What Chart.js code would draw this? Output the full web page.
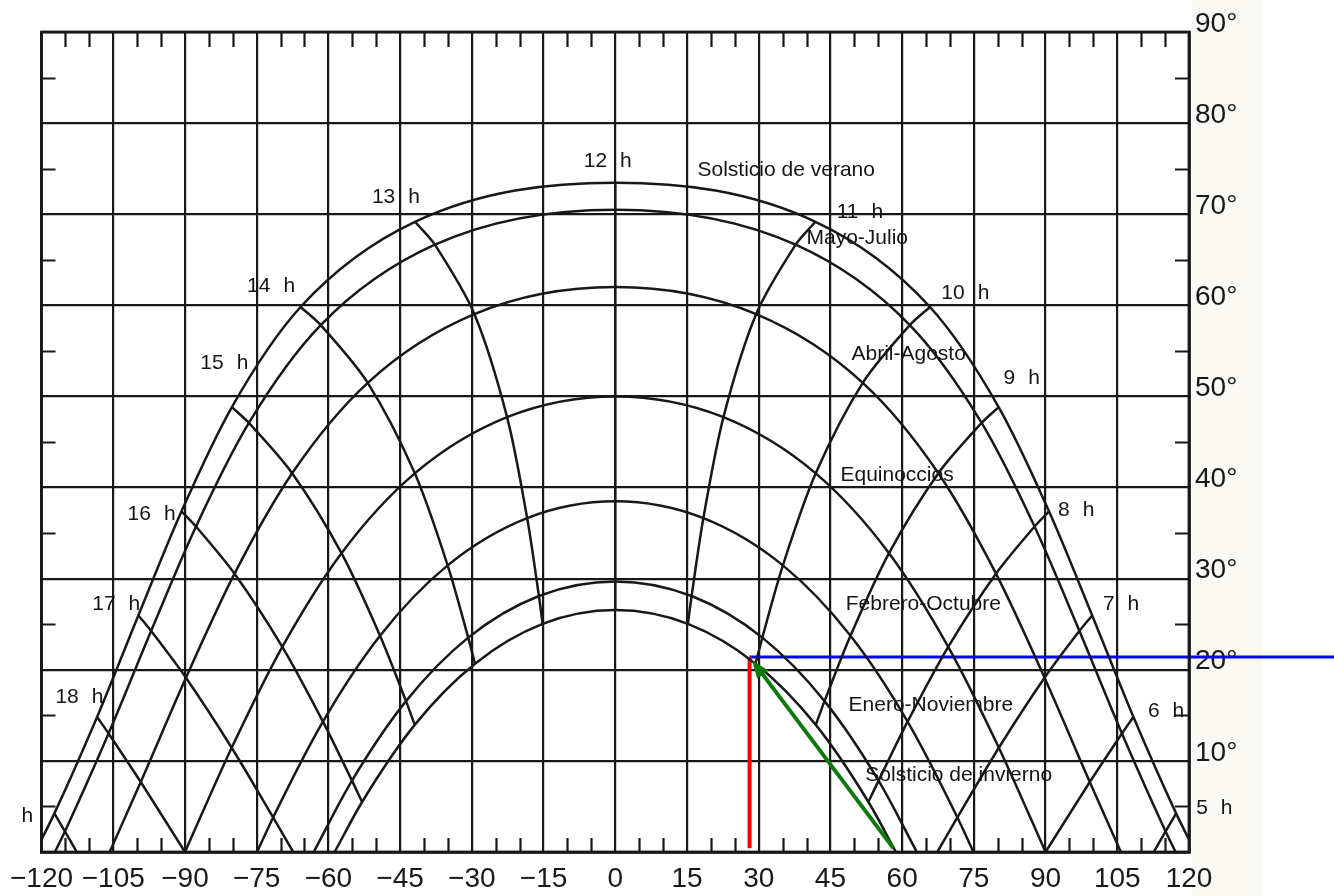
<!DOCTYPE html>
<html>
<head>
<meta charset="utf-8">
<script src="https://cdn.jsdelivr.net/npm/chart.js@4.4.1/dist/chart.umd.min.js"></script>
<style>
  html, body { margin: 0; padding: 0; background: #ffffff; }
  canvas { display: block; }
</style>
</head>
<body>
<canvas id="carta" width="1334" height="896"></canvas>
<script>
// Carta solar cilíndrica, latitud 40° N.
// Acimut en grados desde el sur (este positivo), altura solar en grados.
const horas = [5, 6, 7, 8, 9, 10, 11, 12, 13, 14, 15, 16, 17, 18, 19];

const veranoAz  = [117.31, 108.38, 99.75, 90.72, 80.19, 65.83, 41.88, 0, -41.88, -65.83, -80.19, -90.72, -99.75, -108.38, -117.31];
const veranoAlt = [4.24, 14.82, 25.96, 37.39, 48.83, 59.82, 69.17, 73.45, 69.17, 59.82, 48.83, 37.39, 25.96, 14.82, 4.24];

const mayoJulioAz  = [115.11, 105.98, 97.08, 87.69, 76.63, 61.61, 37.73, 0, -37.73, -61.61, -76.63, -87.69, -97.08, -105.98, -115.11];
const mayoJulioAlt = [2.26, 13.01, 24.26, 35.72, 47.09, 57.83, 66.66, 70.5, 66.66, 57.83, 47.09, 35.72, 24.26, 13.01, 2.26];

const abrilAgostoAz  = [null, 99.25, 89.79, 79.63, 67.58, 51.77, 29.46, 0, -29.46, -51.77, -67.58, -79.63, -89.79, -99.25, null];
const abrilAgostoAlt = [null, 7.68, 19.12, 30.55, 41.57, 51.49, 59.03, 62.0, 59.03, 51.49, 41.57, 30.55, 19.12, 7.68, null];

const equinocciosAz  = [null, 90, 80.23, 69.64, 57.26, 41.93, 22.63, 0, -22.63, -41.93, -57.26, -69.64, -80.23, -90, null];
const equinocciosAlt = [null, 0, 11.44, 22.52, 32.80, 41.56, 47.73, 50.0, 47.73, 41.56, 32.80, 22.52, 11.44, 0, null];

const febreroOctubreAz  = [null, null, 71.56, 61.14, 49.20, 35.06, 18.43, 0, -18.43, -35.06, -49.20, -61.14, -71.56, null, null];
const febreroOctubreAlt = [null, null, 3.79, 14.31, 23.74, 31.46, 36.65, 38.5, 36.65, 31.46, 23.74, 14.31, 3.79, null, null];

const eneroNoviembreAz  = [null, null, null, 55.07, 43.77, 30.76, 15.97, 0, -15.97, -30.76, -43.77, -55.07, null, null, null];
const eneroNoviembreAlt = [null, null, null, 7.83, 16.56, 23.53, 28.10, 29.7, 28.10, 23.53, 16.56, 7.83, null, null, null];

const inviernoAz  = [null, null, null, 52.95, 41.94, 29.34, 15.19, 0, -15.19, -29.34, -41.94, -52.95, null, null, null];
const inviernoAlt = [null, null, null, 5.49, 13.95, 20.66, 25.03, 26.55, 25.03, 20.66, 13.95, 5.49, null, null, null];

// Acimut de salida (orto) y puesta (ocaso) de cada trayectoria
const ortoAz  = [121.30, 117.20, 105.75, 90, 74.91, 63.07, 58.70];
const ocasoAz = [-121.30, -117.20, -105.75, -90, -74.91, -63.07, -58.70];

// Horas cuya línea corta el horizonte entre dos trayectorias
const horasHorizonte = [5, 7, 17, 19];
const azHorizonte    = [112.63, 67.37, -67.37, -112.63];

// Posición solar marcada (acimut, altura) y acimut de salida en invierno
const solMarcado = { az: 28.1, alt: 21.4 };
const ortoMarcado = 58.2;

// Rótulos de los ejes
const ticksX = [-120, -105, -90, -75, -60, -45, -30, -15, 0, 15, 30, 45, 60, 75, 90, 105, 120];
const ticksY = [0, 10, 20, 30, 40, 50, 60, 70, 80, 90];

const nombres = ['Solsticio de verano', 'Mayo-Julio', 'Abril-Agosto', 'Equinoccios',
                 'Febrero-Octubre', 'Enero-Noviembre', 'Solsticio de invierno'];
const seriesAz  = [veranoAz, mayoJulioAz, abrilAgostoAz, equinocciosAz, febreroOctubreAz, eneroNoviembreAz, inviernoAz];
const seriesAlt = [veranoAlt, mayoJulioAlt, abrilAgostoAlt, equinocciosAlt, febreroOctubreAlt, eneroNoviembreAlt, inviernoAlt];

// Rótulos de las trayectorias (acimut, altura del borde izquierdo del texto)
const rotulosFecha = [
  { t: 'Solsticio de verano',   az: 17.2, alt: 74.8 },
  { t: 'Mayo-Julio',            az: 40.0, alt: 67.4 },
  { t: 'Abril-Agosto',          az: 49.4, alt: 54.6 },
  { t: 'Equinoccios',           az: 47.1, alt: 41.4 },
  { t: 'Febrero-Octubre',       az: 48.2, alt: 27.2 },
  { t: 'Enero-Noviembre',       az: 48.8, alt: 16.1 },
  { t: 'Solsticio de invierno', az: 52.3, alt: 8.45 }
];

// Rótulos de las horas
const rotulosHora = [
  { n: '12', az: -6.6,   alt: 75.8 },
  { n: '13', az: -50.9,  alt: 71.9 },
  { n: '14', az: -77.0,  alt: 62.1 },
  { n: '15', az: -86.8,  alt: 53.7 },
  { n: '16', az: -102.0, alt: 37.1 },
  { n: '17', az: -109.4, alt: 27.2 },
  { n: '18', az: -117.1, alt: 17.0 },
  { n: '',   az: -124.2, alt: 3.95 },
  { n: '11', az: 46.3,   alt: 70.2 },
  { n: '10', az: 68.2,   alt: 61.3 },
  { n: '9',  az: 81.2,   alt: 52.0 },
  { n: '8',  az: 92.6,   alt: 37.5 },
  { n: '7',  az: 102.0,  alt: 27.2 },
  { n: '6',  az: 111.4,  alt: 15.5 },
  { n: '5',  az: 121.5,  alt: 4.8 }
];

const TINTA = '#181818';

// Trayectorias diarias: ocaso -> horas -> orto, ordenadas por acimut
const datasetsFecha = nombres.map((nombre, k) => {
  const pts = [{ x: ocasoAz[k], y: 0 }];
  for (let i = horas.length - 1; i >= 0; i--) {
    const a = seriesAlt[k][i];
    if (a !== null && a > 0) pts.push({ x: seriesAz[k][i], y: a });
  }
  pts.push({ x: ortoAz[k], y: 0 });
  return {
    label: nombre, data: pts, showLine: true, pointRadius: 0,
    borderColor: TINTA, borderWidth: 2.5, cubicInterpolationMode: 'monotone'
  };
});

// Líneas horarias: misma hora en todas las trayectorias
const datasetsHora = horas.map((h, i) => {
  const pts = [];
  for (let k = 0; k < nombres.length; k++) {
    if (seriesAlt[k][i] !== null) pts.push({ x: seriesAz[k][i], y: seriesAlt[k][i] });
  }
  const j = horasHorizonte.indexOf(h);
  if (j >= 0) pts.push({ x: azHorizonte[j], y: 0 });
  return {
    label: h + ' h', data: pts, showLine: true, pointRadius: 0,
    borderColor: TINTA, borderWidth: 2.5, tension: 0.3
  };
});

// Marcas: vertical roja, horizontal azul
const datasetsMarca = [
  { label: 'acimut', data: [{ x: solMarcado.az, y: 0.4 }, { x: solMarcado.az, y: solMarcado.alt }],
    showLine: true, pointRadius: 0, borderColor: '#ff0000', borderWidth: 4, clip: false },
  { label: 'altura', data: [{ x: solMarcado.az, y: solMarcado.alt }, { x: 152, y: solMarcado.alt }],
    showLine: true, pointRadius: 0, borderColor: '#0000ff', borderWidth: 3, clip: false }
];

const fondo = {
  id: 'fondo',
  beforeDraw(chart) {
    const c = chart.ctx;
    c.save();
    c.fillStyle = '#ffffff';
    c.fillRect(0, 0, chart.width, chart.height);
    c.fillStyle = '#fbf9f4';
    c.fillRect(chart.chartArea.right + 3, 0, 70, chart.height);
    c.restore();
  }
};

const marco = {
  id: 'marco',
  afterDatasetsDraw(chart) {
    const c = chart.ctx, a = chart.chartArea;
    const xs = chart.scales.x, ys = chart.scales.y;
    c.save();
    c.strokeStyle = TINTA;
    c.lineWidth = 2.8;
    c.strokeRect(a.left, a.top, a.right - a.left, a.bottom - a.top);

    // marcas menores cada 5°
    c.lineWidth = 2.2;
    c.beginPath();
    for (let v = -120; v <= 120; v += 5) {
      if (v % 15 === 0) continue;
      const px = Math.round(xs.getPixelForValue(v)) + 0.5;
      c.moveTo(px, a.top); c.lineTo(px, a.top + 15);
      c.moveTo(px, a.bottom); c.lineTo(px, a.bottom - 14);
    }
    for (let v = 5; v < 90; v += 10) {
      const py = Math.round(ys.getPixelForValue(v)) + 0.5;
      c.moveTo(a.left, py); c.lineTo(a.left + 14, py);
      c.moveTo(a.right, py); c.lineTo(a.right - 14, py);
    }
    c.stroke();

    // rótulos de horas
    c.fillStyle = '#141414';
    c.font = '21px "Liberation Sans", Arial, sans-serif';
    c.textBaseline = 'middle';
    c.textAlign = 'left';
    rotulosHora.forEach(r => {
      const px = xs.getPixelForValue(r.az), py = ys.getPixelForValue(r.alt);
      let x = px;
      if (r.n) { c.fillText(r.n, x, py); x += c.measureText(r.n).width + 13; }
      c.fillText('h', x, py);
    });

    // rótulos de trayectorias
    c.font = '21px "Liberation Sans", Arial, sans-serif';
    rotulosFecha.forEach(r => {
      c.fillText(r.t, xs.getPixelForValue(r.az), ys.getPixelForValue(r.alt));
    });

    // flecha verde desde el orto hasta la posición solar
    const x0 = xs.getPixelForValue(ortoMarcado), y0 = ys.getPixelForValue(0.4);
    const x1 = xs.getPixelForValue(solMarcado.az), y1 = ys.getPixelForValue(solMarcado.alt);
    const ang = Math.atan2(y1 - y0, x1 - x0);
    const tx = x1 - Math.cos(ang) * 4, ty = y1 - Math.sin(ang) * 4;
    const L = 18, W = 7;
    const bx = tx - Math.cos(ang) * L, by = ty - Math.sin(ang) * L;
    c.strokeStyle = '#0b7a0b';
    c.lineWidth = 4;
    c.beginPath(); c.moveTo(x0, y0); c.lineTo(bx + Math.cos(ang) * 4, by + Math.sin(ang) * 4); c.stroke();
    c.fillStyle = '#0b7a0b';
    c.beginPath();
    c.moveTo(tx, ty);
    c.lineTo(bx - Math.sin(ang) * W, by + Math.cos(ang) * W);
    c.lineTo(bx + Math.sin(ang) * W, by - Math.cos(ang) * W);
    c.closePath(); c.fill();
    c.restore();
  }
};

Chart.defaults.font.family = '"Liberation Sans", Arial, sans-serif';
Chart.defaults.color = TINTA;

new Chart(document.getElementById('carta'), {
  type: 'scatter',
  data: { datasets: [...datasetsFecha, ...datasetsHora, ...datasetsMarca] },
  options: {
    responsive: false,
    animation: false,
    devicePixelRatio: 1,
    layout: { padding: { left: 40, top: 32, right: 0, bottom: 0 } },
    plugins: { legend: { display: false }, tooltip: { enabled: false } },
    scales: {
      x: {
        type: 'linear', min: -120, max: 120,
        afterBuildTicks(s) { s.ticks = ticksX.map(v => ({ value: v })); },
        afterFit(s) { s.height = 44; },
        ticks: {
          autoSkip: false, maxRotation: 0, padding: 10,
          font: { size: 28 }, color: TINTA,
          callback: v => (v < 0 ? '\u2212' + Math.abs(v) : String(v))
        },
        grid: { color: TINTA, lineWidth: 2.2, drawTicks: false },
        border: { color: TINTA, width: 2.8 }
      },
      y: {
        type: 'linear', position: 'right', min: 0, max: 90,
        afterBuildTicks(s) { s.ticks = ticksY.map(v => ({ value: v })); },
        afterFit(s) { s.width = 145; },
        ticks: {
          padding: 6, labelOffset: -8,
          font: { size: 28 }, color: TINTA,
          callback: v => (v === 0 ? '' : v + '\u00b0')
        },
        grid: { color: TINTA, lineWidth: 2.2, drawTicks: false },
        border: { color: TINTA, width: 2.8 }
      }
    }
  },
  plugins: [fondo, marco]
});
</script>
</body>
</html>
